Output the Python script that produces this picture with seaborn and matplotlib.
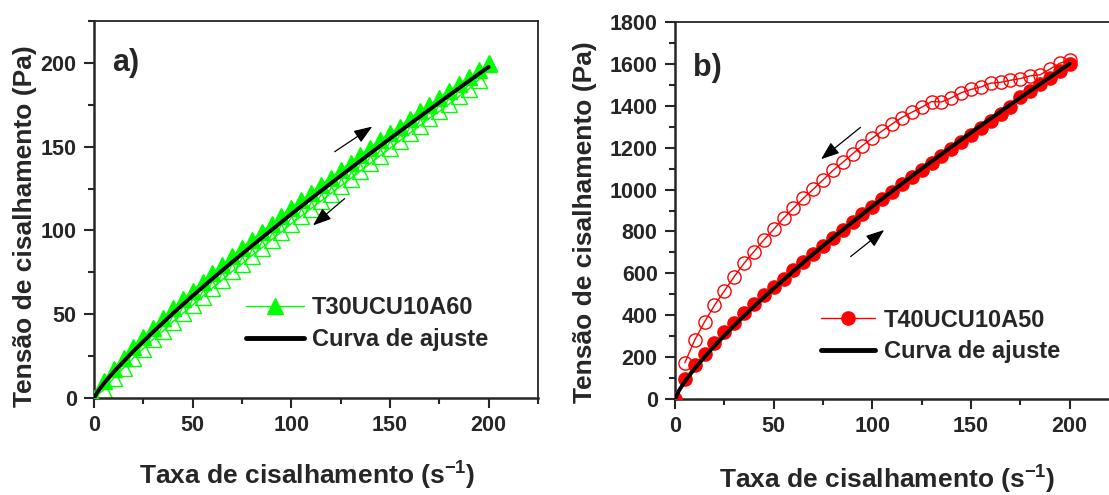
import numpy as np
import pandas as pd
import matplotlib
matplotlib.use("Agg")
import matplotlib.pyplot as plt
from matplotlib import font_manager
from matplotlib.lines import Line2D
from matplotlib.ticker import MultipleLocator
import seaborn as sns

# ---------------- data ----------------
rate_a = [0, 5, 10, 15, 20, 25, 30, 35, 40, 45, 50, 55, 60, 65, 70, 75, 80, 85, 90, 95, 100,
          105, 110, 115, 120, 125, 130, 135, 140, 145, 150, 155, 160, 165, 170, 175, 180,
          185, 190, 195, 200]
stress_a_up = [0, 10, 17.5, 24, 30.5, 36.5, 42, 48, 53.5, 59, 64, 69.5, 74.5, 79.5, 84.5, 89.5,
               94.5, 99, 104, 108.5, 113.5, 118, 122.5, 127, 131.5, 136, 140.5, 145, 149.5,
               154, 158, 162, 166.5, 171, 175, 179, 183.5, 187.5, 191.5, 195.5, 199.5]
stress_a_down = [0, 5, 12, 18, 24, 29.5, 35, 40, 45.5, 50.5, 55.5, 60.5, 65.5, 70.5, 75.5, 80,
                 85, 89.5, 94.5, 99, 104, 108.5, 113, 117.5, 122, 126.5, 131, 135.5, 140,
                 144.5, 149, 153.5, 158, 162.5, 167, 171, 175.5, 180, 184.5, 190, 200]
fit_rate = [0, 2, 5, 10, 20, 30, 40, 50, 60, 70, 80, 90, 100, 110, 120, 130, 140, 150, 160,
            170, 180, 190, 200]
fit_a = [0, 4.0, 8.7, 15.6, 28.0, 39.5, 50.5, 61.0, 71.2, 81.1, 90.8, 100.3, 109.8, 119.0,
         128.1, 137.1, 146.0, 154.8, 163.5, 172.1, 180.7, 189.2, 197.6]

rate_b = rate_a
stress_b_up = [0, 95, 160, 215, 268, 318, 365, 410, 455, 495, 535, 575, 615, 655, 693, 732, 770,
               808, 845, 882, 918, 955, 990, 1025, 1060, 1095, 1128, 1162, 1195, 1228, 1262,
               1295, 1328, 1360, 1393, 1440, 1470, 1505, 1535, 1568, 1600]
rate_b_down = rate_a[1:]
stress_b_down = [173, 282, 369, 447, 516, 584, 648, 704, 759, 810, 863, 911, 958, 1001, 1046,
                 1091, 1130, 1170, 1210, 1245, 1280, 1313, 1344, 1369, 1393, 1420, 1418, 1438,
                 1462, 1478, 1490, 1508, 1512, 1522, 1530, 1543, 1548, 1575, 1603, 1619]
fit_b = [0, 40, 84, 146, 254, 351, 442, 528, 611, 692, 770, 845, 920, 992, 1064, 1134, 1203,
         1272, 1339, 1406, 1471, 1536, 1601]

label_a = "T30UCU10A60"
label_b = "T40UCU10A50"
label_fit = "Curva de ajuste"
xlabel = "Taxa de cisalhamento (s$^{\\mathbf{-1}}$)"
ylabel = "Tensão de cisalhamento (Pa)"

# ---------------- style ----------------
sns.set_style("ticks")
avail = {f.name for f in font_manager.fontManager.ttflist}
if "Liberation Sans Narrow" in avail:
    FONT = "Liberation Sans Narrow"
    SCALE = 1.2
else:
    FONT = "Liberation Sans"
    SCALE = 1.0
plt.rcParams["font.family"] = [FONT, "DejaVu Sans"]
plt.rcParams["font.weight"] = "bold"
plt.rcParams["axes.labelweight"] = "bold"
plt.rcParams["mathtext.fontset"] = "custom"
plt.rcParams["mathtext.rm"] = FONT
plt.rcParams["mathtext.bf"] = FONT + ":bold"
plt.rcParams["mathtext.default"] = "bf"

GREEN = "#00ff00"
RED = "#ff0000"

fig = plt.figure(figsize=(11.09, 4.95), dpi=100)
axA = fig.add_axes([94 / 1109, 97 / 495, 444 / 1109, 377 / 495])
axB = fig.add_axes([675 / 1109, 96 / 495, 444 / 1109, 377 / 495])

TICK_FS = 15.5 * SCALE
LAB_FS = 19 * SCALE
LEG_FS = 17 * SCALE
PANEL_FS = 22 * SCALE

ARROW = dict(arrowstyle="-|>,head_length=0.8,head_width=0.3", color="black", lw=0.9,
             mutation_scale=14, shrinkA=0, shrinkB=0)


def style_axes(ax, ymax, ymajor, yminor):
    ax.set_xlim(0, 225)
    ax.set_ylim(0, ymax)
    ax.xaxis.set_major_locator(MultipleLocator(50))
    ax.xaxis.set_minor_locator(MultipleLocator(25))
    ax.yaxis.set_major_locator(MultipleLocator(ymajor))
    ax.yaxis.set_minor_locator(MultipleLocator(yminor))
    for s in ["left", "bottom"]:
        ax.spines[s].set_linewidth(1.8)
    for s in ["top", "right"]:
        ax.spines[s].set_linewidth(1.3)
    ax.tick_params(which="major", direction="out", length=7.5, width=1.5,
                   labelsize=TICK_FS, pad=5)
    ax.tick_params(which="minor", direction="out", length=4, width=1.5)
    for t in ax.get_xticklabels() + ax.get_yticklabels():
        t.set_fontweight("bold")


# ---------------- panel a ----------------
sns.lineplot(x=rate_a + rate_a[::-1], y=stress_a_up + stress_a_down[::-1], ax=axA,
             color=GREEN, lw=1.0, sort=False, estimator=None, zorder=1)
sns.lineplot(x=rate_a, y=stress_a_down, ax=axA, marker="^", markersize=12, mfc="none",
             mec=GREEN, mew=1.0, linestyle="", estimator=None, zorder=2)
sns.lineplot(x=rate_a, y=stress_a_up, ax=axA, marker="^", markersize=12, mfc=GREEN,
             mec=GREEN, mew=1.0, linestyle="", estimator=None, zorder=3)
sns.lineplot(x=fit_rate, y=fit_a, ax=axA, color="black", lw=2.8, estimator=None, zorder=4)
style_axes(axA, 225, 50, 25)
axA.set_xlabel(xlabel, fontsize=LAB_FS, fontweight="bold")
axA.set_ylabel(ylabel, fontsize=LAB_FS, fontweight="bold")
axA.xaxis.set_label_coords(0.48, -0.165)
axA.yaxis.set_label_coords(-0.128, 0.455)
axA.text(9, 200, "a)", fontsize=PANEL_FS, fontweight="bold", va="center", ha="left")
axA.annotate("", xy=(141, 162), xytext=(122, 147), arrowprops=ARROW)
axA.annotate("", xy=(111, 103), xytext=(127, 119), arrowprops=ARROW)
hA = [Line2D([], [], color=GREEN, lw=1.0, marker="^", ms=12, mfc=GREEN, mec=GREEN),
      Line2D([], [], color="black", lw=3.5)]
axA.legend(hA, [label_a, label_fit], loc="upper left", bbox_to_anchor=(0.342, 0.27),
           frameon=False, handlelength=2.45, handletextpad=0.35,
           labelspacing=0.38, borderaxespad=0, borderpad=0, numpoints=1,
           prop=dict(weight="bold", size=LEG_FS))

# ---------------- panel b ----------------
sns.lineplot(x=rate_b + rate_b_down[::-1], y=stress_b_up + stress_b_down[::-1], ax=axB,
             color=RED, lw=1.0, sort=False, estimator=None, zorder=1)
sns.lineplot(x=rate_b_down, y=stress_b_down, ax=axB, marker="o", markersize=9.5, mfc="none",
             mec=RED, mew=1.0, linestyle="", estimator=None, zorder=2)
sns.lineplot(x=rate_b, y=stress_b_up, ax=axB, marker="o", markersize=9.5, mfc=RED,
             mec=RED, mew=1.0, linestyle="", estimator=None, zorder=3)
sns.lineplot(x=fit_rate, y=fit_b, ax=axB, color="black", lw=2.8, estimator=None, zorder=4)
style_axes(axB, 1800, 200, 100)
axB.set_xlabel(xlabel, fontsize=LAB_FS, fontweight="bold")
axB.set_ylabel(ylabel, fontsize=LAB_FS, fontweight="bold")
axB.xaxis.set_label_coords(0.478, -0.172)
axB.yaxis.set_label_coords(-0.176, 0.47)
axB.text(9, 1580, "b)", fontsize=PANEL_FS, fontweight="bold", va="center", ha="left")
axB.annotate("", xy=(74, 1145), xytext=(94, 1297), arrowprops=ARROW)
axB.annotate("", xy=(106, 807), xytext=(89, 680), arrowprops=ARROW)
hB = [Line2D([], [], color=RED, lw=1.0, marker="o", ms=9.5, mfc=RED, mec=RED),
      Line2D([], [], color="black", lw=3.5)]
axB.legend(hB, [label_b, label_fit], loc="upper left", bbox_to_anchor=(0.329, 0.24),
           frameon=False, handlelength=2.3, handletextpad=0.35,
           labelspacing=0.38, borderaxespad=0, borderpad=0, numpoints=1,
           prop=dict(weight="bold", size=LEG_FS))

fig.savefig("out.png", dpi=100)
